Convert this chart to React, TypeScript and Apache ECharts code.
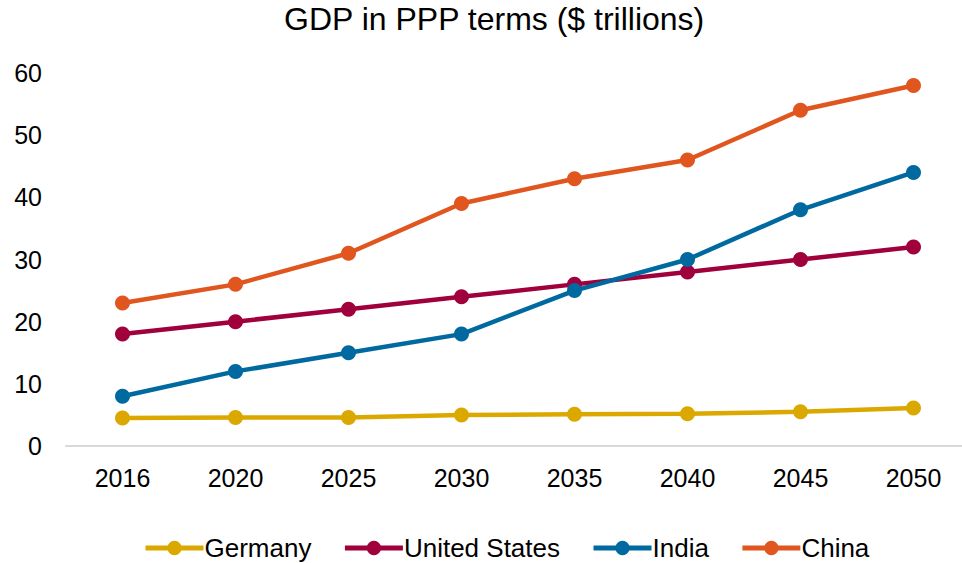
import React, { useEffect, useRef } from "react";
import * as echarts from "echarts";

const years = ["2016", "2020", "2025", "2030", "2035", "2040", "2045", "2050"];
const germany = [4.5, 4.6, 4.6, 5.0, 5.1, 5.2, 5.5, 6.1];
const unitedStates = [18, 20, 22, 24, 26, 28, 30, 32];
const india = [8, 12, 15, 18, 25, 30, 38, 44];
const china = [23, 26, 31, 39, 43, 46, 54, 58];

const seriesDefs = [
  { name: "Germany", data: germany, color: "#dba800" },
  { name: "United States", data: unitedStates, color: "#a0003c" },
  { name: "India", data: india, color: "#0069a0" },
  { name: "China", data: china, color: "#e0561e" },
];

export default function App() {
  const ref = useRef<HTMLDivElement>(null);
  useEffect(() => {
    if (!ref.current) return;
    const chart = echarts.init(ref.current, null, { renderer: "svg" });
    const font = "Liberation Sans, Arial, sans-serif";
    chart.setOption({
      animation: false,
      backgroundColor: "#ffffff",
      textStyle: { fontFamily: font },
      title: {
        text: "GDP in PPP terms ($ trillions)",
        left: 284,
        top: 3,
        padding: 0,
        textStyle: { fontFamily: font, fontSize: 32, fontWeight: "normal", color: "#000" },
      },
      legend: {
        left: 143,
        top: 535,
        padding: 0,
        itemWidth: 58,
        itemHeight: 18,
        itemGap: 31,
        lineStyle: { width: 5 },
        textStyle: { fontFamily: font, fontSize: 26, color: "#000", padding: [0, 0, 0, -4] },
        data: seriesDefs.map((s) => s.name),
      },
      grid: {
        left: 66,
        top: 73,
        width: 904,
        height: 373,
        containLabel: false,
        outerBoundsMode: "none",
      },
      xAxis: {
        type: "category",
        data: years,
        boundaryGap: true,
        axisLine: { show: true, lineStyle: { color: "#d9d9d9", width: 2 } },
        axisTick: { show: false },
        axisLabel: { fontFamily: font, fontSize: 25, color: "#000", margin: 19 },
      },
      yAxis: {
        type: "value",
        min: 0,
        max: 60,
        interval: 10,
        axisLine: { show: false },
        axisTick: { show: false },
        splitLine: { show: false },
        axisLabel: { fontFamily: font, fontSize: 25, color: "#000", margin: 24 },
      },
      series: seriesDefs.map((s) => ({
        name: s.name,
        type: "line",
        data: s.data,
        color: s.color,
        symbol: "circle",
        symbolSize: 15,
        lineStyle: { width: 4.5, color: s.color },
        itemStyle: { color: s.color },
      })),
    });
    return () => chart.dispose();
  }, []);
  return (
    <div
      ref={ref}
      style={{ position: "absolute", left: 0, top: 0, width: 962, height: 563 }}
    />
  );
}
